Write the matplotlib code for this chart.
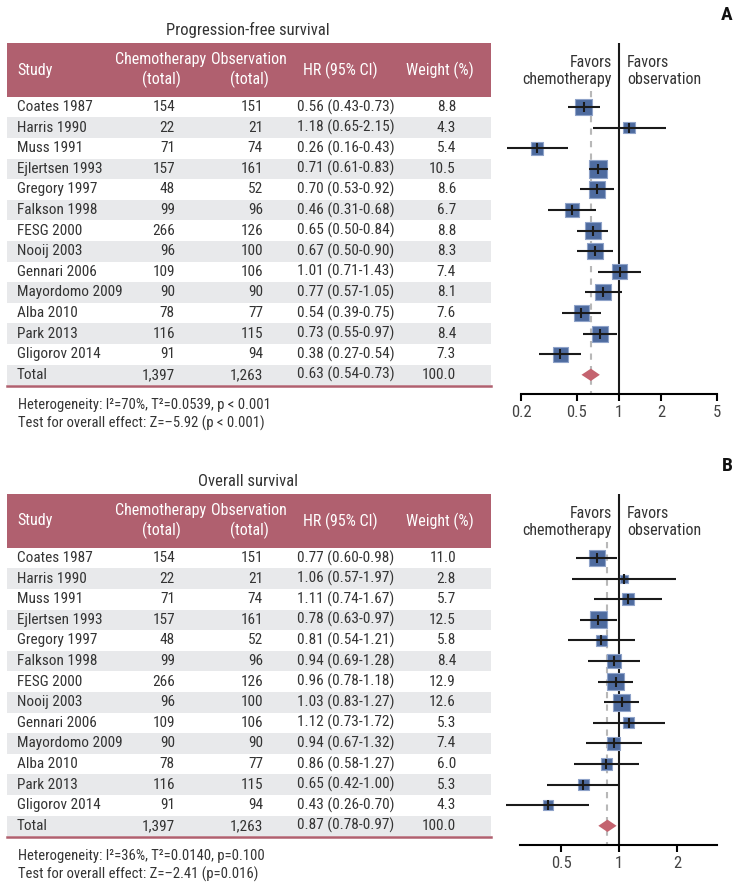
import numpy as np
import matplotlib
matplotlib.use('Agg')
import matplotlib.pyplot as plt
from matplotlib import font_manager as fm
from matplotlib.patches import Rectangle
from matplotlib.ticker import NullLocator

W, H = 740, 891

names = {f.name for f in fm.fontManager.ttflist}
FONT = next((n for n in ['Roboto Condensed', 'Liberation Sans Narrow', 'Roboto'] if n in names), 'DejaVu Sans')
plt.rcParams['font.family'] = [FONT, 'DejaVu Sans']

# ---- data ----
studies = ['Coates 1987', 'Harris 1990', 'Muss 1991', 'Ejlertsen 1993', 'Gregory 1997',
           'Falkson 1998', 'FESG 2000', 'Nooij 2003', 'Gennari 2006', 'Mayordomo 2009',
           'Alba 2010', 'Park 2013', 'Gligorov 2014']
chemo_n = [154, 22, 71, 157, 48, 99, 266, 96, 109, 90, 78, 116, 91]
obs_n = [151, 21, 74, 161, 52, 96, 126, 100, 106, 90, 77, 115, 94]
chemo_total = 1397
obs_total = 1263

pfs_hr = [0.56, 1.18, 0.26, 0.71, 0.70, 0.46, 0.65, 0.67, 1.01, 0.77, 0.54, 0.73, 0.38]
pfs_lo = [0.43, 0.65, 0.16, 0.61, 0.53, 0.31, 0.50, 0.50, 0.71, 0.57, 0.39, 0.55, 0.27]
pfs_hi = [0.73, 2.15, 0.43, 0.83, 0.92, 0.68, 0.84, 0.90, 1.43, 1.05, 0.75, 0.97, 0.54]
pfs_w = [8.8, 4.3, 5.4, 10.5, 8.6, 6.7, 8.8, 8.3, 7.4, 8.1, 7.6, 8.4, 7.3]
pfs_total = [0.63, 0.54, 0.73]
pfs_notes = ['Heterogeneity: I\u00b2=70%, T\u00b2=0.0539, p < 0.001',
             'Test for overall effect: Z=\u20135.92 (p < 0.001)']

os_hr = [0.77, 1.06, 1.11, 0.78, 0.81, 0.94, 0.96, 1.03, 1.12, 0.94, 0.86, 0.65, 0.43]
os_lo = [0.60, 0.57, 0.74, 0.63, 0.54, 0.69, 0.78, 0.83, 0.73, 0.67, 0.58, 0.42, 0.26]
os_hi = [0.98, 1.97, 1.67, 0.97, 1.21, 1.28, 1.18, 1.27, 1.72, 1.32, 1.27, 1.00, 0.70]
os_w = [11.0, 2.8, 5.7, 12.5, 5.8, 8.4, 12.9, 12.6, 5.3, 7.4, 6.0, 5.3, 4.3]
os_total = [0.87, 0.78, 0.97]
os_notes = ['Heterogeneity: I\u00b2=36%, T\u00b2=0.0140, p=0.100',
            'Test for overall effect: Z=\u20132.41 (p=0.016)']

pfs_ticks = [0.2, 0.5, 1, 2, 5]
pfs_ticklabels = ['0.2', '0.5', '1', '2', '5']
os_ticks = [0.5, 1, 2]
os_ticklabels = ['0.5', '1', '2']

ROSE = '#B0606F'
BAND = '#E8E9EB'
BLUE = '#4E6B9F'
TXT = '#333333'
DY = 20.6

fig = plt.figure(figsize=(W / 100, H / 100), dpi=100)
cv = fig.add_axes([0, 0, 1, 1])
cv.set_xlim(0, W)
cv.set_ylim(H, 0)
cv.axis('off')


def panel(title, letter, top, hr, lo, hi, wt, tot, notes, xlim, ticks, ticklabels, x0, x1, size_k):
    head_top, head_bot = top + 13, top + 67
    row0 = top + 77
    axis_y = top + 364
    rows = np.arange(len(studies) + 1)
    ys = row0 + rows * DY

    cv.text(248, top, title, ha='center', va='center', fontsize=12, color=TXT)
    cv.text(727, top - 15, letter, ha='center', va='center', fontsize=14, weight='bold', color='#111')

    # header
    cv.add_patch(Rectangle((7, head_top), 484, head_bot - head_top, color=ROSE, lw=0))
    hy = (head_top + head_bot) / 2
    kw = dict(va='center', fontsize=11.5, color='white', linespacing=1.3)
    cv.text(17, hy, 'Study', ha='left', **kw)
    cv.text(161, hy, 'Chemotherapy\n(total)', ha='center', **kw)
    cv.text(249, hy, 'Observation\n(total)', ha='center', **kw)
    cv.text(340, hy, 'HR (95% CI)', ha='center', **kw)
    cv.text(440, hy, 'Weight (%)', ha='center', **kw)

    labels = studies + ['Total']
    cn = chemo_n + [chemo_total]
    on = obs_n + [obs_total]
    hrs = hr + [tot[0]]
    los = lo + [tot[1]]
    his = hi + [tot[2]]
    ws = wt + [100.0]
    for i, y in enumerate(ys):
        if i % 2 == 1:
            cv.add_patch(Rectangle((7, y - DY / 2), 484, DY, color=BAND, lw=0))
        kw = dict(va='center', fontsize=11, color=TXT)
        cv.text(17, y, labels[i], ha='left', **kw)
        cv.text(175, y, f'{cn[i]:,}', ha='right', **kw)
        cv.text(263, y, f'{on[i]:,}', ha='right', **kw)
        cv.text(297, y, f'{hrs[i]:.2f} ({los[i]:.2f}-{his[i]:.2f})', ha='left', **kw)
        cv.text(456, y, f'{ws[i]:.1f}', ha='right', **kw)
    cv.plot([7, 491], [ys[-1] + DY / 2 + 1, ys[-1] + DY / 2 + 1], color=ROSE, lw=1.8)

    for j, s in enumerate(notes):
        cv.text(18, axis_y + 11 + 18 * j, s, ha='left', va='center', fontsize=10.5, color=TXT)

    cv.text(612, head_top + 28, 'Favors\nchemotherapy', ha='right', va='center',
            multialignment='right', fontsize=11.5, color=TXT, linespacing=1.1)
    cv.text(627, head_top + 28, 'Favors\nobservation', ha='left', va='center',
            multialignment='left', fontsize=11.5, color=TXT, linespacing=1.1)

    # forest plot
    ax = fig.add_axes([x0 / W, 1 - axis_y / H, (x1 - x0) / W, (axis_y - head_top) / H])
    ax.set_facecolor('none')
    ax.set_xscale('log')
    ax.set_xlim(xlim)
    ybot = (axis_y - row0) / DY
    ax.set_ylim(ybot, (head_top - row0) / DY)
    ax.set_yticks([])
    for sp in ['top', 'left', 'right']:
        ax.spines[sp].set_visible(False)
    ax.spines['bottom'].set_linewidth(1.5)
    ax.set_xticks(ticks)
    ax.set_xticklabels(ticklabels)
    ax.xaxis.set_minor_locator(NullLocator())
    ax.tick_params(axis='x', direction='out', length=5, width=1.5, labelsize=12,
                   labelcolor='#444', pad=3)

    r = rows[:-1]
    ax.axvline(1, color='#1a1a1a', lw=1.5, zorder=2)
    ax.plot([tot[0], tot[0]], [-0.8, ybot], ls=(0, (3, 3)), color='#B8B8B8', lw=1.5, zorder=1)
    ax.scatter(hr, r, s=np.array(wt) * size_k, marker='s', color=BLUE,
               edgecolors='#8FA3C9', linewidths=0.8, zorder=3, clip_on=False)
    ax.hlines(r, lo, hi, color='#1a1a1a', lw=1.5, zorder=4, clip_on=False)
    ax.plot(hr, r, ls='none', marker='|', ms=7, mew=1.5, color='#1a1a1a', zorder=5, clip_on=False)
    t = rows[-1]
    ax.fill([tot[1], tot[0], tot[2], tot[0]], [t, t - 0.3, t, t + 0.3], color='#C4636F', lw=0, zorder=3)


panel('Progression-free survival', 'A', 30, pfs_hr, pfs_lo, pfs_hi, pfs_w, pfs_total,
      pfs_notes, (0.2, 5), pfs_ticks, pfs_ticklabels, 521, 717, 16)
panel('Overall survival', 'B', 481, os_hr, os_lo, os_hi, os_w, os_total,
      os_notes, (0.306, 3.22), os_ticks, os_ticklabels, 520, 717, 12)

fig.savefig('out.png', dpi=100)
